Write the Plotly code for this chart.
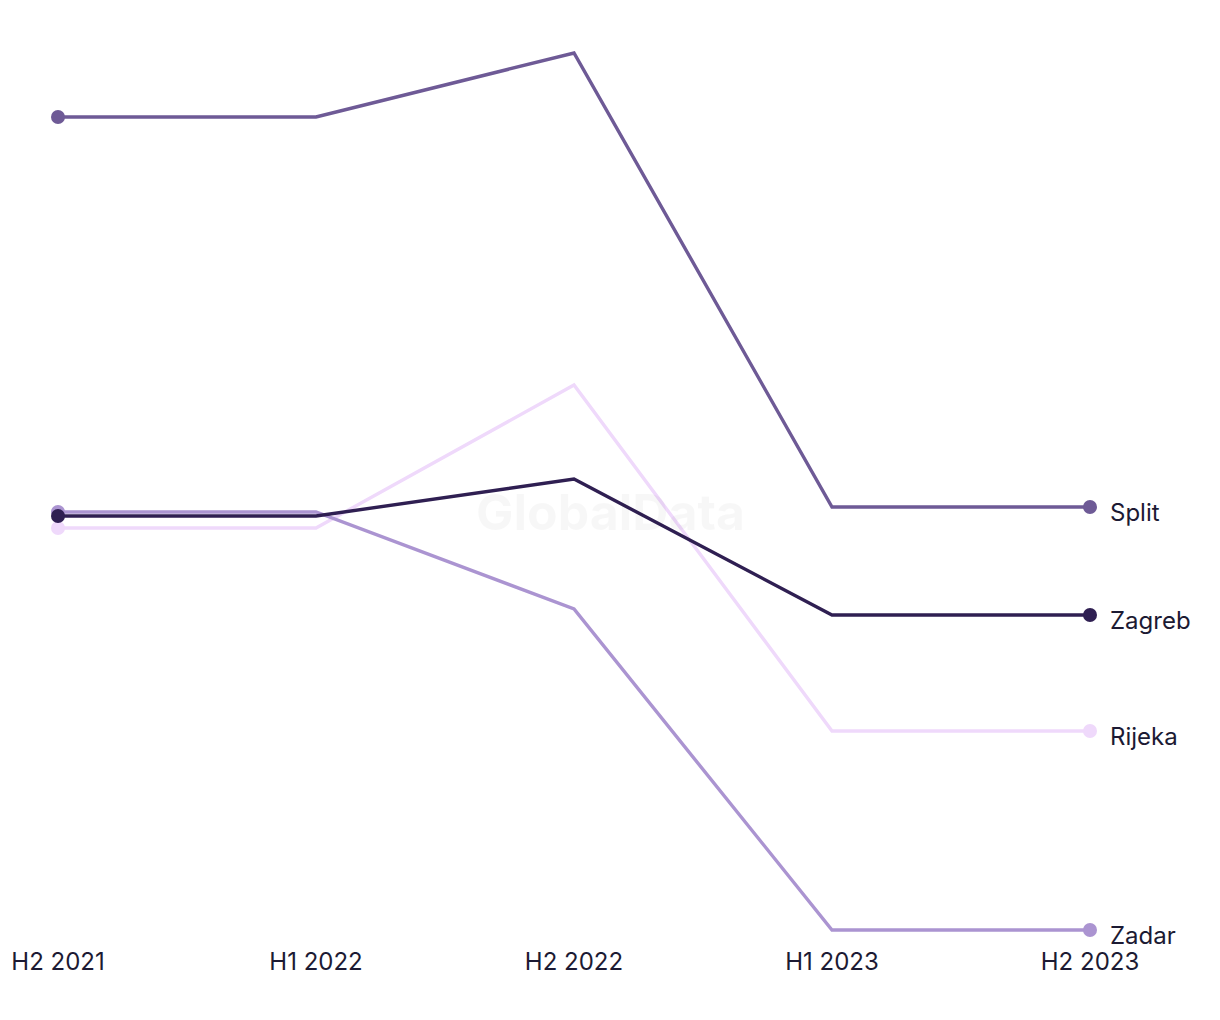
import plotly.graph_objects as go

periods = ["H2 2021", "H1 2022", "H2 2022", "H1 2023", "H2 2023"]
split = [8.83, 8.83, 9.47, 4.93, 4.93]
zagreb = [4.84, 4.84, 5.21, 3.85, 3.85]
rijeka = [4.72, 4.72, 6.15, 2.69, 2.69]
zadar = [4.88, 4.88, 3.91, 0.70, 0.70]

series = [
    ("Split", split, "#6e5a96"),
    ("Rijeka", rijeka, "#efd9fb"),
    ("Zadar", zadar, "#ab94d1"),
    ("Zagreb", zagreb, "#2f1f52"),
]

FONT = "Inter, Lato, sans-serif"
TEXT = "#1c1a33"

fig = go.Figure()
xs = list(range(len(periods)))

fig.add_annotation(
    x=0.535, y=0.4726, xref="paper", yref="paper", text="<b>GlobalData</b>",
    showarrow=False, font=dict(family=FONT, size=50, color="rgba(0,0,0,0.03)"),
    xanchor="center", yanchor="middle",
)

for name, vals, col in series:
    fig.add_trace(go.Scatter(
        x=xs, y=vals, mode="lines", name=name,
        line=dict(color=col, width=3.4),
        cliponaxis=False, showlegend=False,
    ))
    fig.add_trace(go.Scatter(
        x=[xs[0], xs[-1]], y=[vals[0], vals[-1]], mode="markers", name=name,
        marker=dict(color=col, size=14, opacity=1, line=dict(width=0)),
        cliponaxis=False, showlegend=False,
    ))
    fig.add_annotation(
        x=xs[-1], y=vals[-1], text=name, showarrow=False,
        xanchor="left", yanchor="middle", xshift=18, yshift=-5,
        font=dict(family=FONT, size=24, color=TEXT),
    )

fig.update_xaxes(
    range=[0, 4], tickvals=xs, ticktext=periods, showgrid=False, zeroline=False,
    showline=False, ticks="", tickfont=dict(family=FONT, size=24, color=TEXT),
    ticklabelstandoff=10,
)
fig.update_yaxes(range=[0.65, 9.6], visible=False, showgrid=False, zeroline=False)

fig.update_layout(
    width=1220, height=1020,
    margin=dict(l=58, r=130, t=40, b=85),
    plot_bgcolor="white", paper_bgcolor="white",
)

fig.write_html("out.html")
